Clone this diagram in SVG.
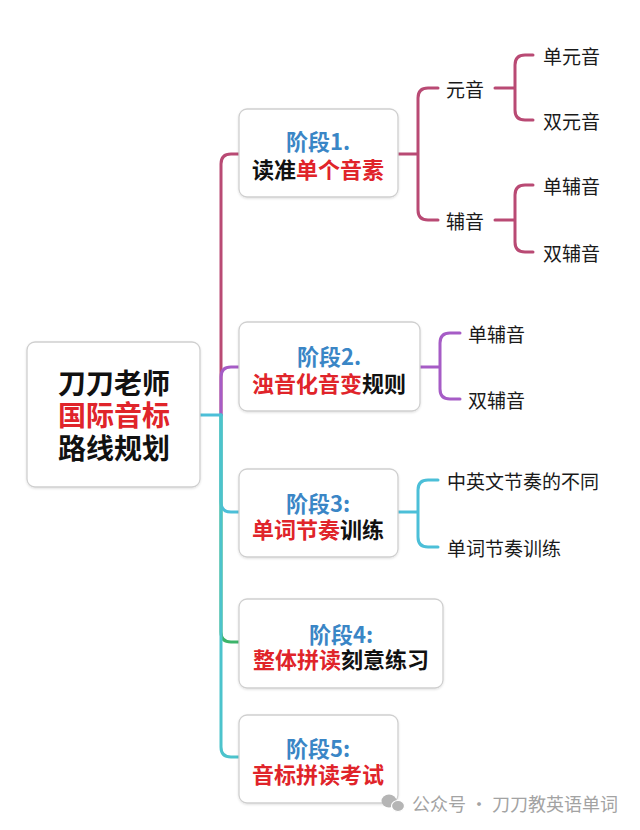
<svg xmlns="http://www.w3.org/2000/svg" width="640" height="830" viewBox="0 0 640 830">
<defs>
<filter id="sh" x="-10%" y="-10%" width="120%" height="130%">
<feDropShadow dx="0" dy="1" stdDeviation="1.2" flood-color="#000" flood-opacity="0.12"/>
</filter>
</defs>
<style>
text{font-family:"Noto Sans CJK SC","Noto Sans",sans-serif;dominant-baseline:central}
.box{fill:#fff;stroke:#cfcfcf;stroke-width:1.3;filter:url(#sh)}
.t{font-size:22px;font-weight:700;text-anchor:middle}
.r{font-size:28px;font-weight:700;text-anchor:middle}
.leaf{font-size:19px;fill:#1a1a1a}
.b{fill:#3a86c6}
.red{fill:#e0242a}
.k{fill:#111}
.ln{fill:none;stroke-width:3;stroke-linecap:round;stroke-linejoin:round}
.c1{stroke:#b94a74}
.c2{stroke:#a65cc6}
.c3{stroke:#4cbfd8}
.c4{stroke:#3cb46a}
.c5{stroke:#4cc3cc}
</style>
<rect width="640" height="830" fill="#fff"/>
<g id="connectors">
<path class="ln c1" d="M221,415 V164 Q221,154 231,154 H239"/>
<path class="ln c2" d="M221,415 V377 Q221,367 231,367 H239"/>
<path class="ln c4" d="M221,415 V632 Q221,642 231,642 H239"/>
<path class="ln c3" d="M221,415 V502 Q221,512 231,512 H239"/>
<path class="ln c5" d="M221,415 V747 Q221,757 231,757 H239"/>
<path class="ln c3" d="M200,415 H221"/>
<path class="ln c1" d="M398,154 H418 M438,88 H428 Q418,88 418,98 V210 Q418,220 428,220 H438"/>
<path class="ln c1" d="M495,88 H515 M533,55 H525 Q515,55 515,65 V110 Q515,120 525,120 H533"/>
<path class="ln c1" d="M495,220 H515 M533,185 H525 Q515,185 515,195 V242 Q515,252 525,252 H533"/>
<path class="ln c2" d="M420,367 H440 M460,333 H450 Q440,333 440,343 V389 Q440,399 450,399 H460"/>
<path class="ln c3" d="M398,512 H418 M438,480 H428 Q418,480 418,490 V537 Q418,547 428,547 H438"/>
</g>
<g id="root">
<rect class="box" x="27" y="342" width="173" height="145" rx="8"/>
<text class="r k" x="114" y="382">刀刀老师</text>
<text class="r red" x="114" y="414">国际音标</text>
<text class="r k" x="114" y="447">路线规划</text>
</g>
<g id="stage1">
<rect class="box" x="239" y="109" width="159" height="88" rx="8"/>
<text class="t b" x="318" y="140">阶段1.</text>
<text class="t" x="318" y="168"><tspan class="k">读准</tspan><tspan class="red">单个音素</tspan></text>
</g>
<g id="stage2">
<rect class="box" x="239" y="322" width="181" height="89" rx="8"/>
<text class="t b" x="329" y="355">阶段2.</text>
<text class="t" x="329" y="382"><tspan class="red">浊音化音变</tspan><tspan class="k">规则</tspan></text>
</g>
<g id="stage3">
<rect class="box" x="239" y="469" width="159" height="88" rx="8"/>
<text class="t b" x="318" y="502">阶段3:</text>
<text class="t" x="318" y="528"><tspan class="red">单词节奏</tspan><tspan class="k">训练</tspan></text>
</g>
<g id="stage4">
<rect class="box" x="239" y="599" width="204" height="89" rx="8"/>
<text class="t b" x="341" y="633">阶段4:</text>
<text class="t" x="341" y="658"><tspan class="red">整体拼读</tspan><tspan class="k">刻意练习</tspan></text>
</g>
<g id="stage5">
<rect class="box" x="239" y="715" width="159" height="88" rx="8"/>
<text class="t b" x="318" y="747">阶段5:</text>
<text class="t red" x="318" y="773">音标拼读考试</text>
</g>
<g id="leaf-yuanyin"><text class="leaf" x="446" y="88">元音</text></g>
<g id="leaf-fuyin"><text class="leaf" x="446" y="220">辅音</text></g>
<g id="leaf-danyuanyin"><text class="leaf" x="543" y="55">单元音</text></g>
<g id="leaf-shuangyuanyin"><text class="leaf" x="543" y="120">双元音</text></g>
<g id="leaf-danfuyin1"><text class="leaf" x="543" y="185">单辅音</text></g>
<g id="leaf-shuangfuyin1"><text class="leaf" x="543" y="252">双辅音</text></g>
<g id="leaf-danfuyin2"><text class="leaf" x="468" y="333">单辅音</text></g>
<g id="leaf-shuangfuyin2"><text class="leaf" x="468" y="399">双辅音</text></g>
<g id="leaf-jiezou"><text class="leaf" x="447" y="480">中英文节奏的不同</text></g>
<g id="leaf-xunlian"><text class="leaf" x="447" y="547">单词节奏训练</text></g>
<g id="watermark">
<ellipse cx="389" cy="801" rx="7.5" ry="6.5" fill="#b5b5b5"/>
<ellipse cx="398" cy="806" rx="6.5" ry="5.5" fill="#b5b5b5" stroke="#fff" stroke-width="1.2"/>
<text x="412" y="803" font-size="18" fill="#a3a3a3">公众号 · 刀刀教英语单词</text>
</g>
</svg>
